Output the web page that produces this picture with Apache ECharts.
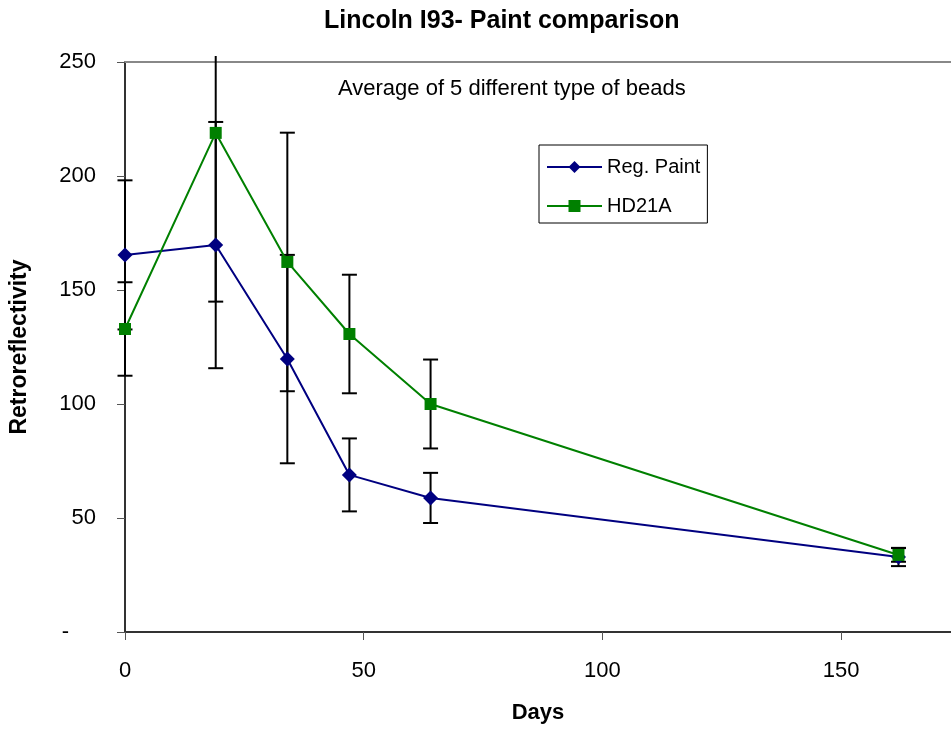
<!DOCTYPE html>
<html><head><meta charset="utf-8">
<script src="https://cdn.jsdelivr.net/npm/echarts@6/dist/echarts.min.js"></script>
<style>html,body{margin:0;padding:0;background:#fff}#c{width:951px;height:730px}</style>
</head><body><div id="c"></div>
<script>
// ---- data ----
const days = [0, 19, 34, 47, 64, 162];
const regPaint = [165.4, 169.7, 119.7, 68.9, 58.8, 32.9];
const regPaintErr = [32.7, 54, 45.7, 16, 11, 4];
const hd21a = [132.9, 218.9, 162.3, 130.7, 100, 33.8];
const hd21aErr = [20.5, 74, 56.7, 26, 19.5, 3];
const xTicks = [0, 50, 100, 150];
const yTicks = [0, 50, 100, 150, 200, 250];
const seriesNames = ['Reg. Paint', 'HD21A'];

const FONT = 'Liberation Sans, Arial, sans-serif';
const chart = echarts.init(document.getElementById('c'), null, {renderer: 'canvas'});

function errSeries(name, vals, errs) {
  return {
    type: 'custom', name: name + ' error', silent: true, clip: false, z: 1,
    data: days.map((d, i) => [d, vals[i] - errs[i], vals[i] + errs[i]]),
    encode: {x: 0, y: [1, 2]},
    renderItem(params, api) {
      const x = api.value(0);
      const lo = api.coord([x, api.value(1)]);
      const hi = api.coord([x, api.value(2)]);
      const limit = params.coordSys.y - 6;
      const top = Math.max(hi[1], limit);
      const hw = 7.5;
      const st = {stroke: '#000', lineWidth: 2};
      const ch = [
        {type: 'line', shape: {x1: lo[0], y1: top, x2: lo[0], y2: lo[1]}, style: st},
        {type: 'line', shape: {x1: lo[0] - hw, y1: lo[1], x2: lo[0] + hw, y2: lo[1]}, style: st}
      ];
      if (hi[1] >= limit) ch.push({type: 'line', shape: {x1: hi[0] - hw, y1: hi[1], x2: hi[0] + hw, y2: hi[1]}, style: st});
      return {type: 'group', children: ch};
    }
  };
}

const xMin = xTicks[0], xStep = xTicks[1] - xTicks[0];
const yStep = yTicks[1] - yTicks[0];

chart.setOption({
  animation: false,
  backgroundColor: '#fff',
  textStyle: {fontFamily: FONT},
  title: {
    text: 'Lincoln I93- Paint comparison',
    left: 324, top: 4, padding: [5, 0, 5, 0],
    textStyle: {fontFamily: FONT, fontSize: 25, fontWeight: 'bold', color: '#000'}
  },
  graphic: [{
    type: 'text', left: 338, top: 78,
    style: {text: 'Average of 5 different type of beads', fontFamily: FONT, fontSize: 22, fill: '#000'}
  }],
  legend: {
    data: seriesNames,
    orient: 'vertical', left: 539, top: 145,
    padding: [12, 7, 7, 7], itemGap: 19,
    itemWidth: 55, itemHeight: 15,
    backgroundColor: '#fff', borderColor: '#000', borderWidth: 1,
    textStyle: {fontFamily: FONT, fontSize: 20, color: '#000'}
  },
  grid: {left: 124, top: 62, bottom: 98, right: 0, containLabel: false},
  xAxis: [{
    type: 'value', min: xMin, max: 173, interval: xStep,
    name: 'Days', nameLocation: 'middle', nameGap: 70,
    nameTextStyle: {fontFamily: FONT, fontSize: 22, fontWeight: 'bold', color: '#000'},
    axisLine: {onZero: false, lineStyle: {color: '#333', width: 2}},
    axisTick: {show: true, inside: false, length: 8, lineStyle: {color: '#555', width: 1}},
    axisLabel: {margin: 28, fontFamily: FONT, fontSize: 22, color: '#000', showMaxLabel: false},
    splitLine: {show: false}
  }, {
    type: 'value', position: 'top', min: xMin, max: 173,
    axisLine: {show: true, onZero: false, lineStyle: {color: '#888', width: 2}},
    axisTick: {show: false}, axisLabel: {show: false}, splitLine: {show: false}
  }],
  yAxis: {
    type: 'value', min: yTicks[0], max: yTicks[yTicks.length - 1], interval: yStep,
    name: 'Retroreflectivity', nameLocation: 'middle', nameGap: 94, nameRotate: 90,
    nameTextStyle: {fontFamily: FONT, fontSize: 23, fontWeight: 'bold', color: '#000'},
    axisLine: {show: true, lineStyle: {color: '#333', width: 2}},
    axisTick: {show: true, length: 8, lineStyle: {color: '#555', width: 1}},
    axisLabel: {
      margin: 29, fontFamily: FONT, fontSize: 22, color: '#000',
      formatter: v => v === 0 ? '{d|-}' : String(v),
      rich: {d: {fontFamily: FONT, fontSize: 22, color: '#000', padding: [0, 27, 0, 0]}}
    },
    splitLine: {show: false}
  },
  series: [
    errSeries(seriesNames[0], regPaint, regPaintErr),
    errSeries(seriesNames[1], hd21a, hd21aErr),
    {
      name: seriesNames[0], type: 'line', z: 3,
      data: days.map((d, i) => [d, regPaint[i]]),
      symbol: 'diamond', symbolSize: 15,
      lineStyle: {color: '#000080', width: 2}, itemStyle: {color: '#000080'}
    },
    {
      name: seriesNames[1], type: 'line', z: 3,
      data: days.map((d, i) => [d, hd21a[i]]),
      symbol: 'rect', symbolSize: 12,
      lineStyle: {color: '#008000', width: 2}, itemStyle: {color: '#008000'}
    }
  ]
});
</script>
</body></html>
